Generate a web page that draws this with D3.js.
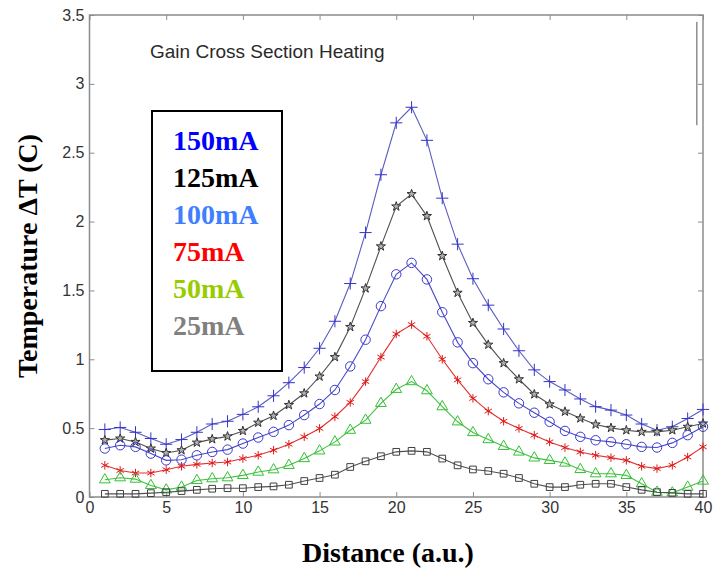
<!DOCTYPE html>
<html>
<head>
<meta charset="utf-8">
<script src="https://cdn.jsdelivr.net/npm/d3@7"></script>
<style>
  body { margin: 0; background: #fff; }
  svg { display: block; }
</style>
</head>
<body>
<div id="chart"></div>
<script>
// distance positions, 1..40
const distance = d3.range(1, 41)

const t150 = [0.49, 0.505, 0.47, 0.425, 0.383, 0.417, 0.47, 0.53, 0.55, 0.60,
  0.655, 0.735, 0.83, 0.94, 1.08, 1.276, 1.55, 1.92, 2.34, 2.717,
  2.83, 2.59, 2.17, 1.836, 1.585, 1.393, 1.22, 1.062, 0.923, 0.838,
  0.777, 0.712, 0.656, 0.631, 0.595, 0.53, 0.485, 0.51, 0.57, 0.636]
const t125 = [0.413, 0.425, 0.40, 0.352, 0.32, 0.34, 0.395, 0.42, 0.44, 0.48,
  0.54, 0.59, 0.668, 0.753, 0.875, 1.016, 1.235, 1.515, 1.82, 2.11,
  2.2, 2.04, 1.75, 1.483, 1.264, 1.106, 0.972, 0.855, 0.746, 0.673,
  0.62, 0.571, 0.527, 0.502, 0.485, 0.473, 0.473, 0.485, 0.51, 0.534]
const t100 = [0.352, 0.376, 0.364, 0.315, 0.266, 0.271, 0.303, 0.327, 0.344, 0.388,
  0.432, 0.473, 0.522, 0.595, 0.675, 0.777, 0.948, 1.142, 1.386, 1.617,
  1.70, 1.58, 1.342, 1.123, 0.972, 0.855, 0.76, 0.68, 0.612, 0.546,
  0.48, 0.437, 0.412, 0.40, 0.383, 0.364, 0.359, 0.393, 0.449, 0.51]
const t75 = [0.23, 0.193, 0.174, 0.174, 0.198, 0.223, 0.237, 0.247, 0.254, 0.279,
  0.303, 0.34, 0.383, 0.437, 0.498, 0.583, 0.687, 0.838, 1.016, 1.184,
  1.252, 1.167, 1.0, 0.85, 0.716, 0.624, 0.55, 0.498, 0.449, 0.40,
  0.359, 0.327, 0.303, 0.286, 0.266, 0.223, 0.206, 0.23, 0.29, 0.364]
const t50 = [0.125, 0.14, 0.13, 0.084, 0.052, 0.072, 0.12, 0.133, 0.14, 0.157,
  0.181, 0.198, 0.23, 0.279, 0.335, 0.40, 0.485, 0.558, 0.68, 0.782,
  0.838, 0.772, 0.656, 0.546, 0.468, 0.417, 0.368, 0.327, 0.284, 0.266,
  0.247, 0.20, 0.169, 0.169, 0.157, 0.096, 0.035, 0.03, 0.072, 0.116]
const t25 = [0.023, 0.023, 0.023, 0.028, 0.035, 0.043, 0.052, 0.06, 0.064, 0.064,
  0.072, 0.077, 0.089, 0.116, 0.138, 0.162, 0.218, 0.259, 0.296, 0.328,
  0.335, 0.328, 0.279, 0.23, 0.20, 0.189, 0.169, 0.138, 0.096, 0.072,
  0.072, 0.089, 0.096, 0.096, 0.072, 0.052, 0.035, 0.03, 0.023, 0.023]

const legendLabels = ['150mA', '125mA', '100mA', '75mA', '50mA', '25mA']
const legendColors = ['#0000ff', '#000000', '#3f7fff', '#ff0000', '#99cc00', '#808080']
const xTicks = [0, 5, 10, 15, 20, 25, 30, 35, 40]
const yTicks = [0, 0.5, 1, 1.5, 2, 2.5, 3, 3.5]

const series = [
  { values: t150, line: '#5c5cc0', mark: '#3333cc', symbol: d3.symbolPlus, size: 50, fill: 'none' },
  { values: t125, line: '#505050', mark: '#333333', symbol: d3.symbolStar, size: 26, fill: '#b0b0b0' },
  { values: t100, line: '#4848c8', mark: '#3a3ad0', symbol: d3.symbolCircle, size: 70, fill: 'none' },
  { values: t75, line: '#e23030', mark: '#e01818', symbol: d3.symbolAsterisk, size: 50, fill: 'none' },
  { values: t50, line: '#40c040', mark: '#33c033', symbol: d3.symbolTriangle, size: 50, fill: 'none' },
  { values: t25, line: '#505050', mark: '#404040', symbol: d3.symbolSquare, size: 45, fill: 'none' }
]

const width = 721, height = 571
const svg = d3.select('#chart').append('svg')
  .attr('width', width)
  .attr('height', height)

const x = d3.scaleLinear().domain([0, 40]).range([89.5, 703])
const y = d3.scaleLinear().domain([0, 3.5]).range([497, 15])

const axisColor = '#8c8c8c'
const styleAxis = g => {
  g.select('.domain').remove()
  g.selectAll('.tick line').attr('stroke', axisColor)
  g.selectAll('.tick text')
    .attr('fill', '#333')
    .style('font-family', 'Liberation Sans, Arial, sans-serif')
    .style('font-size', '16px')
}

svg.append('g')
  .attr('transform', `translate(0,${y(0)})`)
  .call(d3.axisBottom(x).tickValues(xTicks).tickSize(-5).tickPadding(5))
  .call(styleAxis)
svg.append('g')
  .attr('transform', `translate(${x(0)},0)`)
  .call(d3.axisLeft(y).tickValues(yTicks).tickSize(-5).tickPadding(5).tickFormat(d3.format('')))
  .call(styleAxis)
svg.append('g')
  .attr('transform', `translate(0,${y(3.5)})`)
  .call(d3.axisTop(x).tickValues(xTicks).tickSize(-5).tickFormat(''))
  .call(styleAxis)
svg.append('g')
  .attr('transform', `translate(${x(40)},0)`)
  .call(d3.axisRight(y).tickValues(yTicks).tickSize(-5).tickFormat(''))
  .call(styleAxis)

// plot frame
svg.append('rect')
  .attr('x', x(0))
  .attr('y', y(3.5))
  .attr('width', x(40) - x(0))
  .attr('height', y(0) - y(3.5))
  .attr('fill', 'none')
  .attr('stroke', axisColor)
  .attr('stroke-width', 1.5)

// stray vertical line near the top right
svg.append('line')
  .attr('x1', x(39.6)).attr('x2', x(39.6))
  .attr('y1', y(3.45)).attr('y2', y(2.7))
  .attr('stroke', '#555')

const line = d3.line()
  .x((d, i) => x(distance[i]))
  .y(d => y(d))

series.forEach(s => {
  svg.append('path')
    .datum(s.values)
    .attr('fill', 'none')
    .attr('stroke', s.line)
    .attr('stroke-width', 1.1)
    .attr('d', line)
  svg.append('g')
    .selectAll('path')
    .data(s.values)
    .join('path')
    .attr('transform', (d, i) => `translate(${x(distance[i])},${y(d)})`)
    .attr('d', d3.symbol(s.symbol, s.size))
    .attr('fill', s.fill)
    .attr('stroke', s.mark)
    .attr('stroke-width', 1)
})

svg.append('text')
  .attr('x', 150)
  .attr('y', 58)
  .attr('fill', '#2a2a2a')
  .style('font-family', 'Liberation Sans, Arial, sans-serif')
  .style('font-size', '19px')
  .text('Gain Cross Section Heating')

// legend box
svg.append('rect')
  .attr('x', 152)
  .attr('y', 111)
  .attr('width', 130)
  .attr('height', 260)
  .attr('fill', '#fff')
  .attr('stroke', '#000')
  .attr('stroke-width', 2)

svg.append('g')
  .selectAll('text')
  .data(legendLabels)
  .join('text')
  .attr('x', 173)
  .attr('y', (d, i) => 150 + i * 36.9)
  .attr('fill', (d, i) => legendColors[i])
  .style('font-family', 'Liberation Serif, Times New Roman, serif')
  .style('font-weight', 'bold')
  .style('font-size', '28px')
  .text(d => d)

svg.append('text')
  .attr('transform', 'translate(37,256) rotate(-90)')
  .attr('text-anchor', 'middle')
  .style('font-family', 'Liberation Serif, Times New Roman, serif')
  .style('font-weight', 'bold')
  .style('font-size', '28px')
  .text('Temperature ΔT (C)')

svg.append('text')
  .attr('x', 388)
  .attr('y', 562)
  .attr('text-anchor', 'middle')
  .style('font-family', 'Liberation Serif, Times New Roman, serif')
  .style('font-weight', 'bold')
  .style('font-size', '28px')
  .text('Distance (a.u.)')
</script>
</body>
</html>
